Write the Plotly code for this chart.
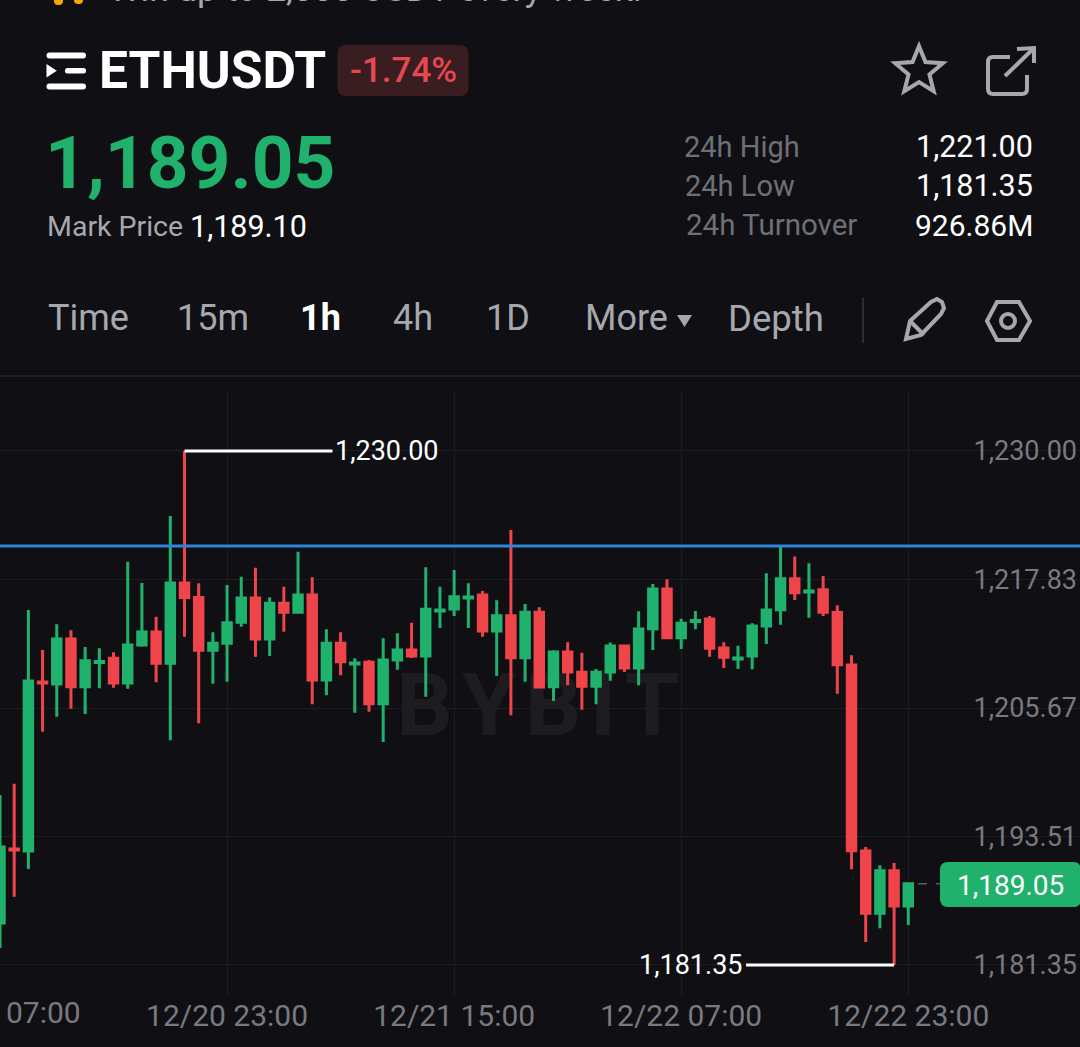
import math
import pandas as pd
import plotly.graph_objects as go

W = 1080
H = 1047

BG = '#101014'
GREEN = '#20b26c'
RED = '#ef454a'
GRID = '#1c1d21'
GREY = '#a5a9af'
DIM = '#6d7076'
AXIS = '#777a80'
FONT = 'Roboto'

times = pd.date_range('2022-12-20 07:00', periods=65, freq='h')

opens = [1185.33, 1192.33, 1192.14, 1208.14, 1207.95, 1212.21, 1207.69, 1209.98, 1210.38, 1208.04,
         1211.64, 1212.87, 1209.91, 1217.51, 1216.12, 1211.14, 1211.80, 1213.79, 1216.09, 1212.21,
         1215.58, 1214.73, 1216.37, 1208.33, 1211.80, 1209.84, 1210.00, 1206.08, 1210.22, 1211.16,
         1210.60, 1214.86, 1215.05, 1216.09, 1216.37, 1212.96, 1214.41, 1210.44, 1214.73, 1207.69,
         1210.98, 1209.05, 1207.73, 1209.08, 1211.54, 1209.46, 1213.18, 1216.94, 1212.33, 1213.86,
         1214.10, 1211.35, 1210.31, 1210.60, 1213.44, 1214.98, 1217.91, 1216.65, 1216.87, 1214.70,
         1209.74, 1192.14, 1186.24, 1190.28, 1186.93]
highs = [1197.44, 1198.51, 1214.95, 1211.16, 1213.60, 1213.03, 1211.45, 1211.33, 1210.95, 1219.52,
         1217.51, 1214.32, 1223.85, 1230.00, 1217.48, 1212.84, 1217.32, 1218.10, 1218.95, 1216.15,
         1217.16, 1220.47, 1218.05, 1213.12, 1212.84, 1210.38, 1210.22, 1212.27, 1212.75, 1213.75,
         1218.99, 1217.16, 1218.74, 1217.48, 1216.75, 1215.87, 1222.52, 1215.52, 1215.21, 1211.14,
         1211.89, 1210.91, 1209.37, 1211.86, 1211.64, 1214.83, 1217.41, 1217.86, 1214.13, 1214.86,
         1214.38, 1211.89, 1211.57, 1213.69, 1218.42, 1220.94, 1220.00, 1219.37, 1218.17, 1215.40,
         1210.66, 1192.52, 1190.79, 1191.00, 1189.08]
lows = [1182.96, 1187.81, 1190.44, 1203.43, 1204.85, 1205.61, 1205.11, 1207.54, 1207.60, 1207.50,
        1211.48, 1208.11, 1202.62, 1212.42, 1204.23, 1207.97, 1208.16, 1213.37, 1210.53, 1210.60,
        1212.90, 1214.73, 1206.03, 1206.88, 1208.77, 1205.23, 1205.32, 1202.46, 1209.30, 1210.41,
        1206.74, 1213.25, 1214.38, 1213.25, 1212.42, 1208.70, 1204.98, 1208.16, 1207.60, 1206.34,
        1207.82, 1205.51, 1206.03, 1208.26, 1209.08, 1207.82, 1211.16, 1212.21, 1211.26, 1213.12,
        1210.53, 1209.46, 1209.37, 1209.34, 1211.73, 1213.56, 1215.90, 1214.22, 1214.38, 1207.03,
        1190.41, 1183.53, 1184.82, 1181.35, 1185.14]
closes = [1192.52, 1192.23, 1208.23, 1208.04, 1212.21, 1207.69, 1210.15, 1210.08, 1208.04, 1211.64,
          1212.87, 1209.91, 1217.51, 1216.12, 1211.14, 1211.80, 1213.75, 1216.09, 1212.21, 1215.58,
          1214.73, 1216.37, 1208.33, 1211.80, 1210.06, 1209.93, 1206.08, 1210.22, 1211.16, 1210.60,
          1215.02, 1214.95, 1216.21, 1216.18, 1212.96, 1214.41, 1210.44, 1214.73, 1207.66, 1210.98,
          1209.08, 1207.73, 1209.05, 1211.54, 1209.46, 1213.15, 1216.94, 1212.33, 1213.69, 1213.96,
          1211.33, 1210.47, 1210.41, 1213.44, 1214.95, 1217.91, 1216.59, 1216.75, 1214.73, 1209.77,
          1192.17, 1186.24, 1190.28, 1186.93, 1189.05]

y_ticks = [1230.00, 1217.83, 1205.67, 1193.51, 1181.35]
y_ticktext = ['1,230.00', '1,217.83', '1,205.67', '1,193.51', '1,181.35']
x_ticks = ['2022-12-20 07:00', '2022-12-20 23:00', '2022-12-21 15:00', '2022-12-22 07:00', '2022-12-22 23:00']
x_ticktext = ['', '12/20 23:00', '12/21 15:00', '12/22 07:00', '12/22 23:00']

high_price = 1230.00
high_time = '2022-12-20 20:00'
low_price = 1181.35
low_time = '2022-12-22 22:00'
day_high = 1221.00
last_price = 1189.05


def px(x):
    return x / W


def py(y):
    return 1 - y / H


def pt(x, y):
    return f'{px(x):.5f},{py(y):.5f}'


def rrect(x0, y0, x1, y1, r):
    return (f'M{pt(x0 + r, y0)} L{pt(x1 - r, y0)} Q{pt(x1, y0)} {pt(x1, y0 + r)} '
            f'L{pt(x1, y1 - r)} Q{pt(x1, y1)} {pt(x1 - r, y1)} '
            f'L{pt(x0 + r, y1)} Q{pt(x0, y1)} {pt(x0, y1 - r)} '
            f'L{pt(x0, y0 + r)} Q{pt(x0, y0)} {pt(x0 + r, y0)} Z')


def poly(points, close=True):
    d = 'M' + ' L'.join(pt(x, y) for x, y in points)
    return d + (' Z' if close else '')


def star(cx, cy, r1, r2):
    points = []
    for i in range(10):
        r = r1 if i % 2 == 0 else r2
        a = -math.pi / 2 + i * math.pi / 5
        points.append((cx + r * math.cos(a), cy + r * math.sin(a)))
    return poly(points)


def filled(fig, path, color):
    fig.add_shape(type='path', path=path, xref='paper', yref='paper', fillcolor=color, line_width=0)


def stroked(fig, path, color=GREY, width=4):
    fig.add_shape(type='path', path=path, xref='paper', yref='paper',
                  line=dict(color=color, width=width))


def label(fig, text, x, y, size, color, anchor='left', weight=400):
    fig.add_annotation(text=text, x=px(x), y=py(y), xref='paper', yref='paper', showarrow=False,
                       xanchor=anchor, yanchor='middle', borderpad=0,
                       font=dict(family=FONT, size=size, color=color, weight=weight))


fig = go.Figure(go.Candlestick(
    x=times, open=opens, high=highs, low=lows, close=closes,
    increasing=dict(line=dict(color=GREEN, width=3), fillcolor=GREEN),
    decreasing=dict(line=dict(color=RED, width=3), fillcolor=RED),
    hoverinfo='skip', showlegend=False))

fig.update_layout(
    width=W, height=H,
    margin=dict(l=0, r=0, t=0, b=0),
    paper_bgcolor=BG, plot_bgcolor=BG,
    showlegend=False,
    boxgap=0.15,
    xaxis=dict(range=['2022-12-20 07:00', '2022-12-23 11:06'], domain=[0, 1],
               rangeslider=dict(visible=False), tickmode='array', tickvals=x_ticks, ticktext=x_ticktext,
               showgrid=True, gridcolor=GRID, gridwidth=1, zeroline=False, showline=False, ticks='',
               tickangle=0, tickfont=dict(family=FONT, size=30, color=AXIS)),
    yaxis=dict(range=[1178.51, 1235.58], domain=[py(995), py(392)], side='right', ticklabelposition='inside',
               tickmode='array', tickvals=y_ticks, ticktext=y_ticktext,
               showgrid=True, gridcolor=GRID, gridwidth=1, zeroline=False, showline=False, ticks='',
               tickfont=dict(family=FONT, size=27, color=AXIS)),
)

# watermark goes under the candles, shape labels sit in the lower layer
fig.add_shape(type='rect', xref='paper', yref='paper', x0=px(400), x1=px(676), y0=py(732), y1=py(664),
              layer='below', line_width=0, fillcolor='rgba(0,0,0,0)',
              label=dict(text='B\u200aY\u200aB\u200aI\u200aT', textposition='middle center',
                         font=dict(family=FONT, size=88, color='#1d1d21', weight=700)))

# current day high line
fig.add_shape(type='line', xref='paper', x0=0, x1=1, yref='y', y0=day_high, y1=day_high,
              line=dict(color='#2f84dc', width=3))

# high and low markers
fig.add_shape(type='line', xref='x', xsizemode='pixel', xanchor=high_time, x0=0, x1=148,
              yref='y', y0=high_price, y1=high_price, line=dict(color='white', width=3))
fig.add_annotation(text='1,230.00', x=high_time, y=high_price, xref='x', yref='y', showarrow=False,
                   xanchor='left', xshift=149, font=dict(family=FONT, size=27, color='white'))
fig.add_shape(type='line', xref='x', xsizemode='pixel', xanchor=low_time, x0=-148, x1=0,
              yref='y', y0=low_price, y1=low_price, line=dict(color='white', width=3))
fig.add_annotation(text='1,181.35', x=low_time, y=low_price, xref='x', yref='y', showarrow=False,
                   xanchor='right', xshift=-150, font=dict(family=FONT, size=27, color='white'))

# last price tag
fig.add_shape(type='line', xref='paper', x0=px(918), x1=px(940), yref='y', y0=last_price, y1=last_price,
              line=dict(color='#5a5d63', width=1.5, dash='dash'))
filled(fig, rrect(940, 862, 1081, 907, 8), GREEN)
label(fig, '1,189.05', 1010, 885, 28, 'white', 'center')

label(fig, '07:00', 5, 1012, 30, AXIS)

# header
label(fig, 'Win up to 2,000 USDT every week.', 108, -11, 35.5, GREY)
filled(fig, rrect(54, -5, 63, 5, 4), '#f7a600')
filled(fig, rrect(74, -5, 83, 4, 4), '#f7a600')
filled(fig, rrect(46.5, 52.5, 86, 58.5, 3), 'white')
filled(fig, rrect(65, 68, 86, 73.5, 2.5), 'white')
filled(fig, poly([(46.5, 64), (56.8, 70.7), (46.5, 77.5)]), 'white')
filled(fig, rrect(46.5, 83.5, 86, 89.5, 3), 'white')
label(fig, 'ETHUSDT', 98, 71, 51.5, 'white', weight=700)
filled(fig, rrect(337.5, 45, 468.5, 96, 9), '#3a1d21')
label(fig, '-1.74%', 403, 70, 35, '#e5484f', 'center', weight=500)

stroked(fig, star(919, 71, 25, 11))
stroked(fig, f'M{pt(1010, 57)} L{pt(993, 57)} Q{pt(988, 57)} {pt(988, 62)} L{pt(988, 89)} Q{pt(988, 94)} {pt(993, 94)} '
             f'L{pt(1022, 94)} Q{pt(1027, 94)} {pt(1027, 89)} L{pt(1027, 75)}')
stroked(fig, poly([(1005, 76), (1034, 48)], close=False))
stroked(fig, poly([(1017, 49), (1034, 48), (1034, 63)], close=False))

label(fig, '1,189.05', 44, 163, 73, GREEN, weight=700)
label(fig, 'Mark Price', 46, 227, 28.5, GREY)
label(fig, '1,189.10', 189, 227, 30.5, 'white')

label(fig, '24h High', 683, 147, 29, DIM)
label(fig, '24h Low', 684, 186, 29, DIM)
label(fig, '24h Turnover', 685, 225, 29.5, DIM)
label(fig, '1,221.00', 1034, 147, 30.5, 'white', 'right')
label(fig, '1,181.35', 1034, 186, 30.5, 'white', 'right')
label(fig, '926.86M', 1034, 225, 30, 'white', 'right')

# tabs
label(fig, 'Time', 47, 318, 36, GREY)
label(fig, '15m', 176, 318, 36, GREY)
label(fig, '1h', 299, 318, 36, 'white', weight=700)
label(fig, '4h', 392, 318, 36, GREY)
label(fig, '1D', 485, 318, 36, GREY)
label(fig, 'More', 584, 318, 36, GREY)
filled(fig, poly([(677, 315), (692, 315), (684.5, 327)]), GREY)
label(fig, 'Depth', 727, 318, 36.5, GREY)
fig.add_shape(type='line', xref='paper', yref='paper', x0=px(863), x1=px(863), y0=py(298), y1=py(343),
              line=dict(color='#2c2e33', width=2))

# pencil
stroked(fig, poly([(906, 339), (910, 321), (931, 302), (937, 299), (942, 302), (944, 308), (941, 314), (921, 335)]))
stroked(fig, poly([(910, 321), (924, 335)], close=False))

# settings
stroked(fig, poly([(987, 321), (997, 302), (1019, 302), (1030, 321), (1019, 340), (997, 340)]))
fig.add_shape(type='circle', xref='paper', yref='paper', x0=px(1001), x1=px(1015), y0=py(328), y1=py(314),
              line=dict(color=GREY, width=4))

# line under the tabs
fig.add_shape(type='line', xref='paper', yref='paper', x0=0, x1=1, y0=py(376), y1=py(376),
              line=dict(color='#1e2025', width=2))

fig.write_html('out.html', config=dict(displayModeBar=False),
               post_script=f"document.body.style.margin='0';document.body.style.background='{BG}';")
